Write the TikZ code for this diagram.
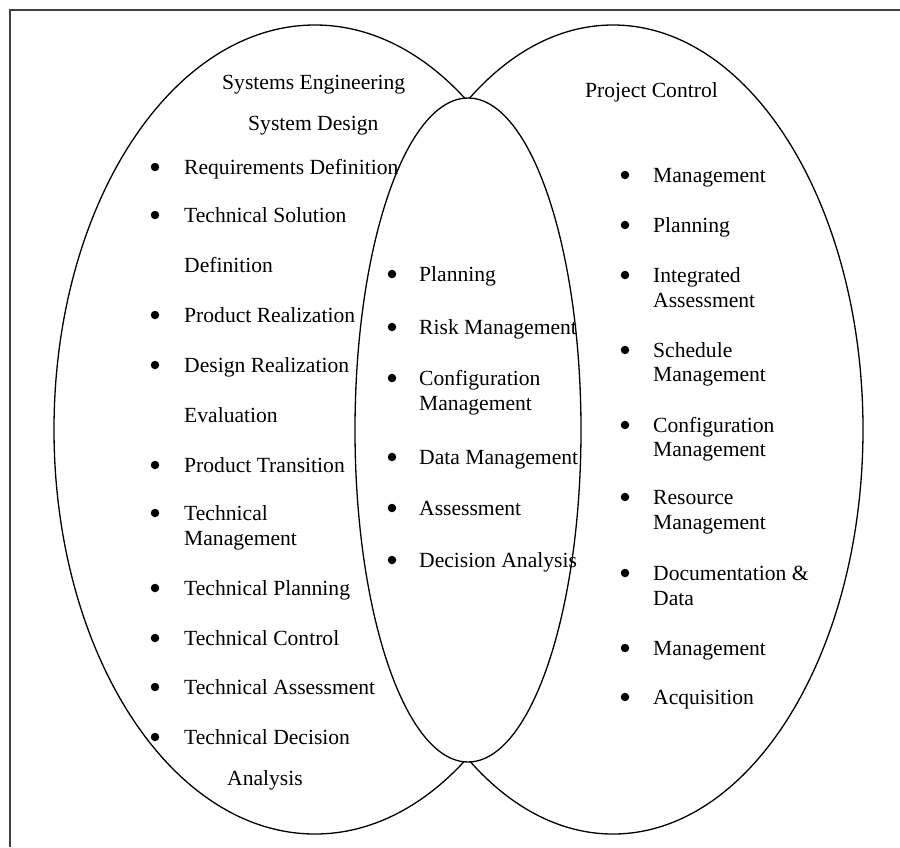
\documentclass[tikz,border=0pt]{standalone}
\usepackage{fontspec}
\setmainfont{Liberation Serif}
\begin{document}
\begin{tikzpicture}[x=1pt,y=-1pt,
  frameline/.style={line width=2pt,draw=black!75},
  venn/.style={line width=1.3pt,draw=black},
  txt/.style={anchor=base west,inner sep=0pt,font=\fontsize{21.6}{26}\selectfont},
  bul/.style={circle,fill=black,inner sep=0pt,minimum size=8.5pt}]
\useasboundingbox (0,0) rectangle (900,847);
% outer frame (open at right and bottom)
\draw[frameline] (10,847) -- (10,10) -- (900,10);
% the three sets
\draw[venn] (315,429.5) ellipse [x radius=261, y radius=404.5];
\draw[venn] (613,429.5) ellipse [x radius=250, y radius=404.5];
\draw[venn,fill=white] (468,430) ellipse [x radius=113, y radius=332];

% left set: Systems Engineering
\node[txt] (seTitle) at (222,89) {Systems Engineering};
\node[txt] (sdTitle) at (248,130) {System Design};
\node[bul] (lb1) at (155,167) {};
\node[txt] (l1) at (184,174) {Requirements Definition};
\node[bul] (lb2) at (155,215) {};
\node[txt] (l2) at (184,222) {Technical Solution};
\node[txt] (l2b) at (184,272) {Definition};
\node[bul] (lb3) at (155,315) {};
\node[txt] (l3) at (184,322) {Product Realization};
\node[bul] (lb4) at (155,365) {};
\node[txt] (l4) at (184,372) {Design Realization};
\node[txt] (l4b) at (184,422) {Evaluation};
\node[bul] (lb5) at (155,465) {};
\node[txt] (l5) at (184,472) {Product Transition};
\node[bul] (lb6) at (155,513) {};
\node[txt] (l6) at (184,520) {Technical};
\node[txt] (l6b) at (184,545) {Management};
\node[bul] (lb7) at (155,588) {};
\node[txt] (l7) at (184,595) {Technical Planning};
\node[bul] (lb8) at (155,638) {};
\node[txt] (l8) at (184,645) {Technical Control};
\node[bul] (lb9) at (155,687) {};
\node[txt] (l9) at (184,694) {Technical Assessment};
\node[bul] (lb10) at (155,737) {};
\node[txt] (l10) at (184,744) {Technical Decision};
\node[txt] (l10b) at (227,785) {Analysis};

% shared items
\node[bul] (mb1) at (392,274) {};
\node[txt] (m1) at (419,281) {Planning};
\node[bul] (mb2) at (392,327) {};
\node[txt] (m2) at (419,334) {Risk Management};
\node[bul] (mb3) at (392,378) {};
\node[txt] (m3) at (419,385) {Configuration};
\node[txt] (m3b) at (419,410) {Management};
\node[bul] (mb4) at (392,457) {};
\node[txt] (m4) at (419,464) {Data Management};
\node[bul] (mb5) at (392,508) {};
\node[txt] (m5) at (419,515) {Assessment};
\node[bul] (mb6) at (392,560) {};
\node[txt] (m6) at (419,567) {Decision Analysis};

% right set: Project Control
\node[txt] (pcTitle) at (585,97) {Project Control};
\node[bul] (rb1) at (625,175) {};
\node[txt] (r1) at (653,182) {Management};
\node[bul] (rb2) at (625,225) {};
\node[txt] (r2) at (653,232) {Planning};
\node[bul] (rb3) at (625,275) {};
\node[txt] (r3) at (653,282) {Integrated};
\node[txt] (r3b) at (653,307) {Assessment};
\node[bul] (rb4) at (625,350) {};
\node[txt] (r4) at (653,357) {Schedule};
\node[txt] (r4b) at (653,381) {Management};
\node[bul] (rb5) at (625,425) {};
\node[txt] (r5) at (653,432) {Configuration};
\node[txt] (r5b) at (653,456) {Management};
\node[bul] (rb6) at (625,497) {};
\node[txt] (r6) at (653,504) {Resource};
\node[txt] (r6b) at (653,529) {Management};
\node[bul] (rb7) at (625,573) {};
\node[txt] (r7) at (653,580) {Documentation \&};
\node[txt] (r7b) at (653,605) {Data};
\node[bul] (rb8) at (625,648) {};
\node[txt] (r8) at (653,655) {Management};
\node[bul] (rb9) at (625,697) {};
\node[txt] (r9) at (653,704) {Acquisition};
\end{tikzpicture}
\end{document}
